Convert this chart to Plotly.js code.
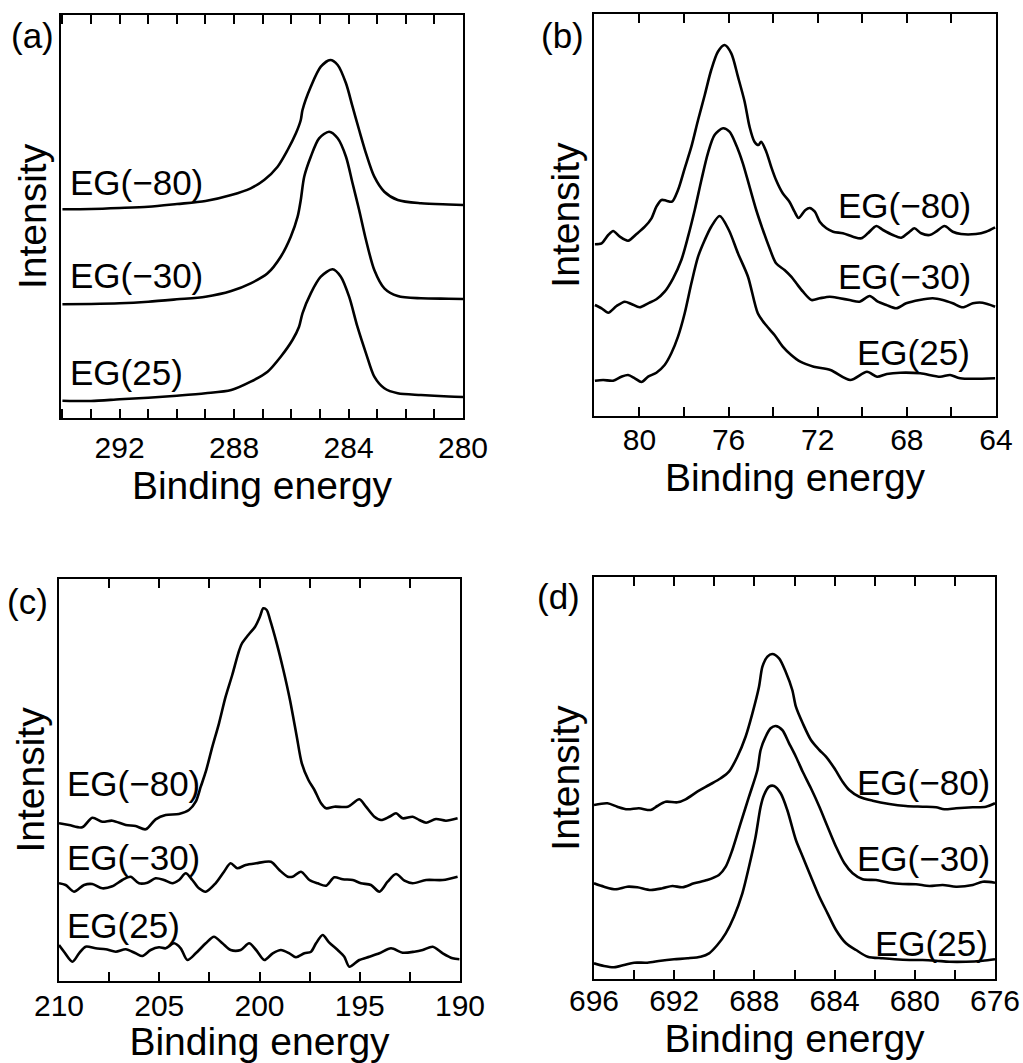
<!DOCTYPE html>
<html>
<head>
<meta charset="utf-8">
<script src="https://cdn.plot.ly/plotly-3.0.1.min.js"></script>
<style>html,body{margin:0;padding:0;background:#fff;}#chart{width:1023px;height:1063px;}</style>
</head>
<body>
<div id="chart"></div>
<script>
// ---------- Data (binding energy, intensity in arbitrary units) ----------
const seriesNames = ["EG(\u221280)", "EG(\u221230)", "EG(25)"];
const panelLabels = ["(a)", "(b)", "(c)", "(d)"];
const xTitle = "Binding energy";
const yTitle = "Intensity";

// Panel (a)
const aE80 = [294.0, 293.0, 292.0, 291.0, 290.0, 289.0, 288.1, 287.42, 286.95, 286.48, 286.13, 285.84, 285.67, 285.61, 285.32, 284.97, 284.64, 284.38, 284.09, 283.86, 283.63, 283.39, 283.10, 282.75, 282.28, 281.47, 280.5, 280.0];
const aI80 = [208.7, 209, 210, 211.3, 214, 217, 223, 229.7, 238, 251.3, 268, 284.7, 298, 308, 331.3, 351.3, 358, 353, 334.7, 311.3, 288, 264.7, 241.3, 226.3, 218, 214.7, 213.5, 213];
const aE30 = [294.0, 293.0, 292.0, 291.0, 290.0, 289.0, 288.1, 287.42, 286.83, 286.37, 286.02, 285.78, 285.67, 285.55, 285.32, 285.03, 284.68, 284.38, 284.09, 283.86, 283.63, 283.39, 283.10, 282.75, 282.28, 281.47, 280.5, 280.0];
const aI30 = [113.7, 114, 114.7, 116.3, 118.7, 121.3, 127, 134.7, 144.7, 161.3, 181.3, 201.3, 218, 241.3, 261.3, 279.7, 286.3, 279.7, 261.3, 234.7, 208, 178, 148, 129.7, 122, 119.7, 119.3, 119];
const aE25 = [294.0, 293.0, 292.0, 291.0, 290.0, 289.0, 288.1, 287.42, 286.83, 286.37, 285.96, 285.73, 285.61, 285.32, 284.97, 284.56, 284.27, 283.98, 283.69, 283.39, 283.10, 282.75, 282.28, 281.47, 280.5, 280.0];
const aI25 = [17.3, 17, 18.7, 20.3, 22.3, 24.7, 28, 36.3, 46.3, 61.3, 78, 91.3, 104.7, 124.7, 141.3, 148.7, 141.3, 121.3, 91.3, 64.7, 41.3, 29.7, 24.7, 23, 21.5, 21];

// Panel (b)
const bE80 = [82.0, 81.70, 81.40, 81.18, 80.88, 80.51, 80.13, 79.76, 79.46, 79.24, 79.01, 78.79, 78.54, 78.27, 77.97, 77.67, 77.37, 77.07, 76.78, 76.48, 76.18, 75.88, 75.58, 75.28, 75.06, 74.84, 74.66, 74.54, 74.31, 74.09, 73.87, 73.57, 73.27, 73.04, 72.86, 72.55, 72.36, 72.13, 71.91, 71.61, 71.31, 70.87, 70.42, 70.04, 69.75, 69.37, 69.07, 68.63, 68.25, 67.88, 67.66, 67.36, 66.98, 66.69, 66.31, 65.94, 65.57, 64.90, 64.45, 64.04];
const bI80 = [171.7, 172.7, 181, 185, 179.3, 175.3, 182, 189.3, 197.7, 209.3, 216, 215.3, 214.3, 226, 247.7, 269.3, 296, 321, 346, 364.3, 371, 362.7, 339.3, 314.3, 289.3, 274.3, 271, 274.3, 264.3, 249.3, 236, 222.7, 214.3, 204.3, 198, 206, 208, 204.3, 194.3, 187.7, 184.3, 182.7, 179.3, 177.7, 182.7, 190, 186, 181, 178.3, 184.3, 187.7, 182.7, 181, 184.3, 190, 184.3, 182, 182, 184.3, 188.7];
const bE30 = [82.0, 81.70, 81.40, 81.03, 80.66, 80.36, 79.99, 79.61, 79.24, 78.87, 78.49, 78.12, 77.82, 77.52, 77.22, 76.93, 76.63, 76.25, 75.96, 75.66, 75.36, 75.06, 74.76, 74.46, 74.16, 73.87, 73.49, 73.19, 72.96, 72.66, 72.28, 71.91, 71.46, 71.01, 70.57, 70.12, 69.67, 69.30, 68.92, 68.48, 68.03, 67.43, 66.84, 66.39, 65.94, 65.49, 65.04, 64.60, 64.04];
const bI30 = [111, 107.7, 103.3, 110, 114.3, 112, 108.7, 112.7, 116.7, 124.3, 137.7, 156, 179.3, 206, 236, 262.7, 281, 287.7, 284.3, 271, 252.7, 229.3, 206, 186, 167.7, 152.7, 146, 139.3, 132.7, 124.3, 116, 117.7, 119.3, 117.7, 116, 114.3, 120, 114.3, 111, 107.7, 112.7, 116, 117.7, 116, 112.7, 108.7, 112.7, 113.3, 109.3];
const bE25 = [82.0, 81.63, 81.18, 80.81, 80.51, 80.21, 79.91, 79.61, 79.24, 78.87, 78.57, 78.27, 77.97, 77.67, 77.37, 77.07, 76.78, 76.40, 75.99, 75.58, 75.13, 74.69, 74.39, 73.94, 73.57, 73.19, 72.78, 72.18, 71.43, 70.54, 69.79, 69.34, 68.90, 68.30, 67.40, 66.51, 66.06, 65.61, 64.04];
const bI25 = [35.3, 36, 35.3, 39.3, 41, 37.7, 34, 39.3, 43.3, 51, 62.7, 79.3, 102.7, 132.7, 159.3, 176, 189.3, 200, 186, 162.7, 139.3, 102.7, 92.7, 81, 69.3, 61, 54.3, 49.3, 46, 36, 44.3, 39.3, 42, 43.3, 42.7, 39.3, 41, 37.7, 37.7];

// Panel (c)
const cE80 = [210.0, 209.50, 208.84, 208.34, 207.84, 207.34, 206.67, 206.18, 205.68, 205.18, 204.68, 204.02, 203.52, 203.18, 202.93, 202.68, 202.35, 202.02, 201.69, 201.36, 201.06, 200.89, 200.56, 200.22, 199.98, 199.81, 199.64, 199.48, 199.14, 198.81, 198.48, 198.14, 197.89, 197.56, 197.26, 196.93, 196.68, 196.27, 195.60, 195.02, 194.69, 194.27, 193.94, 193.52, 193.19, 192.86, 192.36, 192.03, 191.69, 191.20, 190.70, 190.12];
const cI80 = [157.7, 156, 153.7, 163.3, 159.3, 160.3, 156, 155, 151.7, 161.7, 166, 167, 171, 179.3, 194.3, 209.3, 234.3, 257.7, 284.3, 306, 327.7, 337, 346, 354.3, 364.3, 372.7, 371, 361.7, 337.7, 311, 281, 244.3, 217.7, 201, 191, 177.7, 172.7, 174.3, 174.3, 181.7, 174.3, 164.3, 161, 164.3, 167.7, 162.7, 164.3, 161, 158.3, 162, 160.3, 162.7];
const cE30 = [210.0, 209.67, 209.25, 208.75, 208.34, 207.84, 207.34, 206.84, 206.43, 206.01, 205.59, 205.18, 204.76, 204.35, 204.01, 203.68, 203.35, 203.02, 202.68, 202.19, 201.77, 201.44, 201.11, 200.69, 200.17, 199.43, 199.01, 198.59, 198.35, 197.93, 197.51, 197.10, 196.68, 196.27, 195.85, 195.35, 194.94, 194.44, 194.02, 193.61, 193.19, 192.77, 192.36, 191.69, 190.86, 190.12];
const cI30 = [97.7, 96, 89.3, 96, 97, 92.7, 94.7, 101, 104.3, 97.7, 98.3, 102.7, 101, 97.7, 101, 107.7, 101, 92.7, 89.3, 97.7, 109.3, 117.7, 112.7, 116, 117.7, 119.3, 111, 104.3, 104.3, 109.3, 101, 97.7, 95.3, 103.7, 101.7, 101, 97.7, 96, 89.3, 99.3, 107, 100.3, 97.7, 101, 101, 104.3];
const cE25 = [210.0, 209.75, 209.33, 209.0, 208.67, 208.17, 207.67, 207.17, 206.67, 206.18, 205.84, 205.43, 205.01, 204.68, 204.26, 203.93, 203.60, 203.18, 202.68, 202.27, 201.85, 201.44, 200.94, 200.52, 200.17, 199.76, 199.34, 198.93, 198.51, 198.18, 197.76, 197.43, 197.18, 196.85, 196.52, 196.10, 195.77, 195.52, 195.02, 194.52, 194.02, 193.44, 192.86, 192.28, 191.86, 191.36, 190.86, 190.37, 190.03];
const cI25 = [36, 29.3, 19.3, 27.7, 34.3, 32.7, 31.7, 29.3, 31.7, 27.7, 25, 31, 33.7, 32.7, 37.7, 32.7, 21, 27.7, 37.7, 44.3, 37.7, 31, 31, 37.7, 31, 21, 27.7, 31, 27.7, 23.7, 27.7, 29.3, 37.7, 46, 38.3, 31, 24.3, 14.3, 21, 24.3, 27.7, 32.7, 28.3, 29.3, 31, 34.3, 27.7, 22.7, 21.7];

// Panel (d)
const dE80 = [696.0, 695.33, 694.84, 694.34, 693.76, 693.17, 692.84, 692.43, 691.84, 691.43, 690.85, 690.26, 689.68, 689.27, 688.85, 688.44, 688.10, 687.77, 687.60, 687.35, 687.11, 686.77, 686.44, 686.11, 685.93, 685.59, 685.18, 684.76, 684.43, 684.01, 683.60, 683.27, 682.77, 682.10, 681.27, 680.44, 679.61, 678.94, 678.53, 677.94, 677.11, 676.45, 676.0];
const dI80 = [174, 175.7, 172.3, 169.7, 170.7, 169, 173, 177.3, 176.7, 179.7, 187.3, 194, 200.7, 207.3, 222.3, 242.3, 265.7, 292.3, 312.3, 322.3, 325, 320.7, 307.3, 289, 272.3, 255.7, 239, 229, 222.3, 210.7, 197.3, 189, 182.3, 178.3, 175, 173, 172.3, 171.7, 169.7, 170.7, 171.7, 172.3, 175.7];
const dE30 = [696.0, 695.5, 694.92, 694.34, 693.84, 693.17, 692.59, 692.09, 691.59, 691.01, 690.35, 689.77, 689.43, 689.10, 688.69, 688.27, 687.85, 687.69, 687.44, 687.19, 686.94, 686.61, 686.27, 685.93, 685.59, 685.18, 684.76, 684.35, 683.93, 683.51, 683.10, 682.60, 681.93, 681.27, 680.61, 679.94, 679.27, 678.61, 677.94, 677.11, 676.61, 676.0];
const dI30 = [95.7, 92.3, 89.7, 92.3, 91.7, 89, 90.7, 93, 91.7, 95.7, 99, 104, 112.3, 129, 155.7, 182.3, 209, 229, 242.3, 250.7, 253, 249, 235.7, 222.3, 207.3, 190.7, 172.3, 152.3, 132.3, 115.7, 105.7, 99.7, 99, 96.3, 95, 94.7, 93, 94, 92.3, 94, 97.3, 96.3];
const dE25 = [696.0, 695.5, 695.0, 694.5, 694.0, 693.34, 692.67, 692.01, 691.34, 690.68, 690.26, 689.85, 689.43, 689.02, 688.60, 688.27, 687.94, 687.69, 687.52, 687.27, 687.02, 686.69, 686.36, 685.93, 685.59, 685.18, 684.76, 684.35, 683.93, 683.43, 682.93, 682.35, 681.60, 681.0, 680.27, 679.61, 678.94, 678.28, 677.45, 676.61, 676.0];
const dI25 = [15.7, 13, 11.7, 14, 16.3, 16.3, 18.3, 19.7, 20.7, 22.3, 25.7, 34, 45.7, 62.3, 85.7, 112.3, 142.3, 172.3, 184, 192.3, 193, 185.7, 169, 139, 122.3, 102.3, 82.3, 65.7, 49, 35.7, 29, 22.3, 20.7, 19.7, 19, 19, 18.3, 17.3, 17.3, 18.3, 19.7];

// Axis settings per panel
const xRanges = [[294.05, 280], [82.04, 64], [210, 190], [696, 676]];
const xDticks = [4, 4, 5, 4];
const xTick0s = [280, 64, 190, 676];
const xMinorDticks = [1, 2, 2.5, 2];
const yMax = [403, 402, 402, 402];

// Label positions (data coords) for series labels
const labelX = [[293.8, 293.8, 293.8], [65.03, 65.03, 65.07], [209.7, 209.7, 209.7], [676.15, 676.15, 676.25]];
const labelY = [[236, 143, 46], [210, 139, 63], [198, 124, 56], [197, 121, 36]];
const labelAnchor = ["left", "right", "left", "right"];

// ---------- Build ----------
const FONT = "Liberation Sans, Arial, Helvetica, sans-serif";
const panels = [
  [[aE80, aI80], [aE30, aI30], [aE25, aI25]],
  [[bE80, bI80], [bE30, bI30], [bE25, bI25]],
  [[cE80, cI80], [cE30, cI30], [cE25, cI25]],
  [[dE80, dI80], [dE30, dI30], [dE25, dI25]]
];
const W = 1023, H = 1063;
const boxes = [[61, 463, 15, 418], [594, 996, 14, 416], [59, 460, 579, 981], [594, 995, 577, 979]];
const tickStandoff = [2, -4, -3, -6];
const titleStandoff = [0, 6, 1, 7];

const data = [];
const layout = {
  width: W, height: H,
  margin: {l: 0, r: 0, t: 0, b: 0},
  paper_bgcolor: "#ffffff", plot_bgcolor: "#ffffff",
  showlegend: false,
  font: {family: FONT, color: "#000000"},
  annotations: []
};

panels.forEach((series, p) => {
  const sfx = p === 0 ? "" : String(p + 1);
  series.forEach(([xs, ys], s) => {
    data.push({
      x: xs, y: ys, type: "scatter", mode: "lines",
      xaxis: "x" + sfx, yaxis: "y" + sfx,
      line: {color: "#000000", width: 2.6, shape: "spline", smoothing: 0.8},
      hoverinfo: "skip", name: seriesNames[s]
    });
    layout.annotations.push({
      xref: "x" + sfx, yref: "y" + sfx,
      x: labelX[p][s], y: labelY[p][s],
      xanchor: labelAnchor[p], yanchor: "middle",
      text: seriesNames[s], showarrow: false,
      font: {family: FONT, size: 35, color: "#000000"}
    });
  });
  const [x0, x1, y0, y1] = boxes[p];
  const tickStyle = {ticks: "inside", ticklen: 9, tickwidth: 2, tickcolor: "#000000"};
  layout["xaxis" + sfx] = Object.assign({
    domain: [x0 / W, x1 / W],
    anchor: "y" + sfx,
    range: xRanges[p],
    tick0: xTick0s[p], dtick: xDticks[p],
    minor: Object.assign({dtick: xMinorDticks[p], tick0: xTick0s[p], showgrid: false}, tickStyle),
    showline: true, linecolor: "#000000", linewidth: 2, mirror: "ticks",
    showgrid: false, zeroline: false,
    tickfont: {family: FONT, size: 30, color: "#000000"},
    ticklabelstandoff: tickStandoff[p],
    title: {text: xTitle, font: {family: FONT, size: 39, color: "#000000"}, standoff: titleStandoff[p]},
    automargin: false, fixedrange: true
  }, tickStyle);
  layout["yaxis" + sfx] = {
    domain: [1 - y1 / H, 1 - y0 / H],
    anchor: "x" + sfx,
    range: [0, yMax[p]],
    showline: true, linecolor: "#000000", linewidth: 2, mirror: true,
    ticks: "", showticklabels: false, showgrid: false, zeroline: false,
    title: {text: yTitle, font: {family: FONT, size: 39, color: "#000000"}, standoff: 0},
    automargin: false, fixedrange: true
  };
  layout.annotations.push({
    xref: "paper", yref: "paper",
    x: [32, 562, 27, 558][p] / W, y: 1 - [36, 35, 601, 596][p] / H,
    xanchor: "center", yanchor: "middle",
    text: panelLabels[p], showarrow: false,
    font: {family: FONT, size: 35, color: "#000000"}
  });
});

Plotly.newPlot("chart", data, layout, {staticPlot: true, displayModeBar: false});
</script>
</body>
</html>
